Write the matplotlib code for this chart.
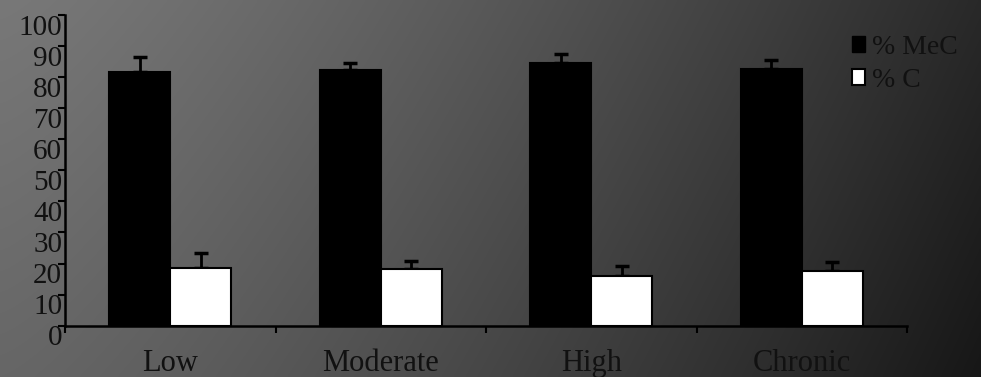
import numpy as np
import matplotlib
matplotlib.use("Agg")
import matplotlib.pyplot as plt
from matplotlib.patches import Patch
from matplotlib.transforms import ScaledTranslation

categories = ["Low", "Moderate", "High", "Chronic"]
mec_values = [81.7, 82.2, 84.4, 82.6]
mec_err = [4.7, 2.4, 2.9, 2.9]
c_values = [18.5, 18.2, 16.0, 17.7]
c_err = [5.0, 2.6, 3.2, 2.8]
yticks = [0, 10, 20, 30, 40, 50, 60, 70, 80, 90, 100]
series_labels = ["% MeC", "% C"]

plt.rcParams['font.family'] = ['Liberation Serif', 'DejaVu Serif']

W, H = 981, 377
fig = plt.figure(figsize=(W / 100, H / 100), dpi=100)

# gradient background
bg = fig.add_axes([0, 0, 1, 1], zorder=-10)
xx, yy = np.meshgrid(np.linspace(0, 1, 400), np.linspace(0, 1, 160))
v = 0.47 - 0.31 * xx ** 1.3 - 0.07 * yy
v = np.clip(v, 0, 1)
bg.imshow(np.dstack([v, v, v]), aspect='auto', extent=[0, 1, 1, 0], interpolation='bilinear')
bg.set_axis_off()

left, right = 65 / W, 907 / W
bottom, top = (H - 325.7) / H, (H - 15) / H
ax = fig.add_axes([left, bottom, right - left, top - bottom])
ax.set_facecolor('none')

x = np.arange(len(categories))
w = 0.29
ax.bar(x - w / 2, mec_values, width=w, color='black', edgecolor='black', linewidth=1.5, label=series_labels[0], zorder=3)
ax.bar(x + w / 2, c_values, width=w, color='white', edgecolor='black', linewidth=1.5, label=series_labels[1], zorder=3)
ax.errorbar(x - w / 2, mec_values, yerr=[np.zeros(4), mec_err], fmt='none', ecolor='black',
            elinewidth=2, capsize=5, capthick=2.5, zorder=2)
ax.errorbar(x + w / 2, c_values, yerr=[np.zeros(4), c_err], fmt='none', ecolor='black',
            elinewidth=2, capsize=5, capthick=2.5, zorder=2)

ax.set_xlim(-0.5, len(categories) - 0.5)
ax.set_ylim(0, 100)
for s in ['top', 'right']:
    ax.spines[s].set_visible(False)
for s in ['left', 'bottom']:
    ax.spines[s].set_linewidth(1.8)
    ax.spines[s].set_color('black')

ax.set_yticks(yticks)
ax.set_yticklabels([str(t) for t in yticks], fontsize=21, color='#111111')
ax.tick_params(axis='y', direction='out', length=5, width=1.5, pad=-3, color='black')
offset = ScaledTranslation(0, -7 / 72, fig.dpi_scale_trans)
for lab in ax.get_yticklabels():
    lab.set_transform(lab.get_transform() + offset)

ax.set_xticks(x)
ax.set_xticklabels(categories, fontsize=22, color='#111111')
ax.tick_params(axis='x', which='major', length=0, pad=17)
ax.set_xticks(np.arange(-0.5, len(categories), 1.0), minor=True)
ax.tick_params(axis='x', which='minor', direction='out', length=5, width=1.5, color='black')

handles = [Patch(facecolor='black', edgecolor='black'), Patch(facecolor='white', edgecolor='black', linewidth=1.5)]
leg = fig.legend(handles, series_labels, loc='upper right', bbox_to_anchor=(972 / W, 1 - 21 / H),
                 frameon=False, fontsize=20, handlelength=0.5, handleheight=0.5,
                 handletextpad=0.25, labelspacing=0.28, borderpad=0)
for t in leg.get_texts():
    t.set_color('#111111')

fig.savefig('out.png', dpi=100)
